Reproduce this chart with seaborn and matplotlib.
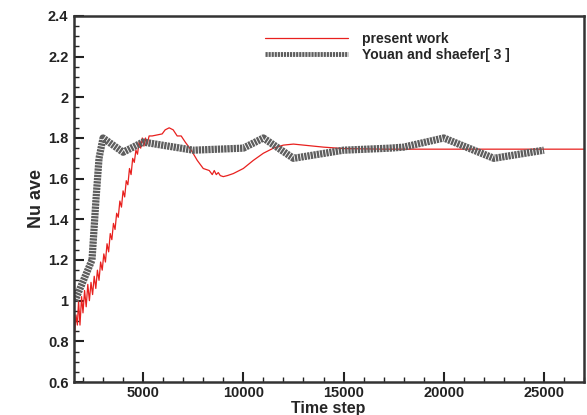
import numpy as np
import pandas as pd
import matplotlib
matplotlib.use("Agg")
import matplotlib.pyplot as plt
import seaborn as sns
from matplotlib.ticker import MultipleLocator

# -------------------------------
# Data
# -------------------------------
present_step = [1550, 1650, 1720, 1780, 1850, 1930, 2000, 2080, 2160, 2240,
                2320, 2400, 2480, 2560, 2640, 2720, 2800, 2880, 2960, 3040,
                3120, 3200, 3280, 3360, 3440, 3520, 3600, 3680, 3760, 3840,
                3920, 4000, 4080, 4160, 4240, 4320, 4400, 4480, 4560, 4640,
                4720, 4800, 4880, 4960, 5040, 5120, 5200, 5300, 5450, 5700,
                5950, 6100, 6300, 6500, 6700, 6900, 7100, 7400, 7700, 8000,
                8300, 8450, 8550, 8650, 8750, 8850, 9000, 9200, 9500, 10000,
                10500, 11000, 11500, 12000, 12500, 13000, 14000, 15000, 17000, 27000]
present_nu = [0.80, 0.93, 0.88, 1.00, 0.88, 1.02, 0.94, 1.05, 0.97, 1.08,
              1.00, 1.09, 1.03, 1.12, 1.06, 1.15, 1.10, 1.19, 1.15, 1.23,
              1.19, 1.28, 1.24, 1.33, 1.30, 1.38, 1.35, 1.43, 1.41, 1.49,
              1.46, 1.54, 1.51, 1.59, 1.57, 1.65, 1.62, 1.70, 1.68, 1.74,
              1.72, 1.78, 1.75, 1.80, 1.76, 1.80, 1.77, 1.81, 1.81, 1.815,
              1.82, 1.84, 1.85, 1.84, 1.81, 1.81, 1.78, 1.74, 1.69, 1.65,
              1.64, 1.62, 1.64, 1.62, 1.63, 1.615, 1.61, 1.615, 1.625, 1.65,
              1.69, 1.725, 1.75, 1.765, 1.77, 1.765, 1.755, 1.748, 1.745, 1.745]

youan_step = [1600, 2450, 2650, 2800, 3000, 4000, 5000, 7500, 10000, 11000,
              12500, 15000, 17300, 18000, 20000, 22500, 25000]
youan_nu = [1.00, 1.20, 1.50, 1.70, 1.80, 1.73, 1.78, 1.74, 1.75, 1.80,
            1.70, 1.74, 1.75, 1.755, 1.80, 1.70, 1.74]

present = pd.DataFrame({"step": present_step, "nu": present_nu})
youan = pd.DataFrame({"step": youan_step, "nu": youan_nu})

# -------------------------------
# Style
# -------------------------------
sns.set_style("ticks")
plt.rcParams["font.family"] = ["Liberation Sans", "DejaVu Sans"]
plt.rcParams["font.weight"] = "bold"

fig = plt.figure(figsize=(5.87, 4.15), dpi=100)
ax = fig.add_axes([0.126, 0.0795, 0.869, 0.882])

sns.lineplot(data=present, x="step", y="nu", ax=ax, color="#e8201e",
             linewidth=0.9, estimator=None, sort=False, label="present work")
sns.lineplot(data=youan, x="step", y="nu", ax=ax, color="#5e5e5e",
             linewidth=5.2, estimator=None, sort=False,
             label="Youan and shaefer[ 3 ]")
gray_line = ax.lines[1]
gray_line.set_linestyle((0, (0.32, 0.12)))
gray_line.set_dash_capstyle("butt")

ax.set_xlim(1550, 27000)
ax.set_ylim(0.6, 2.4)
ax.xaxis.set_major_locator(MultipleLocator(5000))
ax.xaxis.set_minor_locator(MultipleLocator(1000))
ax.yaxis.set_minor_locator(MultipleLocator(0.05))
ax.set_yticks([0.6, 0.8, 1.0, 1.2, 1.4, 1.6, 1.8, 2.0, 2.2, 2.4])
ax.set_yticklabels(["0.6", "0.8", "1", "1.2", "1.4", "1.6", "1.8", "2", "2.2", "2.4"])

ax.tick_params(which="both", direction="in", colors="#222222", labelsize=10.5,
               top=False, right=False)
ax.tick_params(which="major", length=7, width=1.5, pad=4)
ax.tick_params(axis="x", which="major", pad=3)
ax.tick_params(which="minor", length=3.5, width=1.0)
for s in ax.spines.values():
    s.set_visible(True)
    s.set_linewidth(1.8)
    s.set_color("#333333")

ax.set_xlabel("Time step", fontsize=11.5, fontweight="bold")
ax.xaxis.set_label_coords(0.498, -0.052)
ax.set_ylabel("Nu ave", fontsize=13, fontweight="bold", labelpad=2)

leg = ax.legend(loc="upper left", bbox_to_anchor=(0.35, 0.99), frameon=False,
                fontsize=10, handlelength=6.0, handletextpad=1.0,
                labelspacing=0.15)
for t in leg.get_texts():
    t.set_fontweight("bold")
leg.legend_handles[1].set_linewidth(3.5)
leg.legend_handles[1].set_linestyle((0, (0.45, 0.18)))

fig.savefig("out.png", dpi=100)
